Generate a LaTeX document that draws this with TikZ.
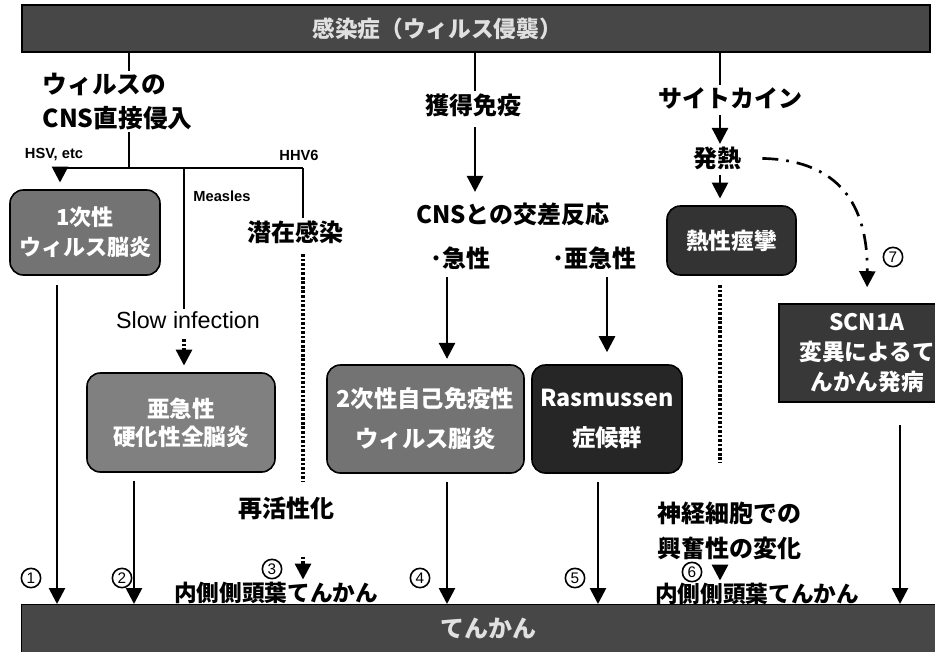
\documentclass[tikz,border=0pt]{standalone}
\usepackage{fontspec}
\setmainfont{Liberation Sans}
\newfontfamily\jp{Noto Sans CJK JP}
\usetikzlibrary{arrows.meta}
\begin{document}
\begin{tikzpicture}[x=0.75pt,y=-0.75pt,
  line width=2pt,
  arr/.style={-{Triangle[width=12pt,length=12pt]}},
  dots/.style={line width=2.4pt, dash pattern=on 2pt off 1.4pt},
  dashdot/.style={dash pattern=on 12pt off 6pt on 2pt off 6pt},
  jt/.style={font=\jp\bfseries\fontsize{18}{24}\selectfont, inner sep=1pt, text=black},
  lat/.style={font=\bfseries\fontsize{11}{12}\selectfont, inner sep=1pt},
  latbig/.style={font=\fontsize{17.5}{19}\selectfont, inner sep=1pt},
  num/.style={circle, draw=black, line width=1.2pt, minimum size=14.5pt, inner sep=0pt,
     font=\fontsize{11.5}{11.5}\selectfont},
  boxbase/.style={draw=black, line width=1.2pt, text=white, align=center, inner sep=0pt,
     font=\jp\bfseries\fontsize{17}{22.5}\selectfont},
  rbox/.style={boxbase, rounded corners=10pt},
  banner/.style={draw=black, line width=1pt, fill=black!72, inner sep=0pt},
  bantext/.style={font=\jp\bfseries\fontsize{17}{20}\selectfont, text=black!12, inner sep=0pt}
]
\useasboundingbox (0,0) rectangle (935,651);
\fill[white] (0,0) rectangle (935,651);

% banners
\node[banner, minimum width=681pt, minimum height=35.25pt] (top) at (476,28.5) {};
\node[bantext] (toptext) at (437,28.5) {感染症（ウィルス侵襲）};
\node[banner, minimum width=689pt, minimum height=38pt] (bot) at (481,630) {};
\node[bantext, font=\jp\bfseries\fontsize{18}{20}\selectfont] (bottext) at (488,628) {てんかん};

% column x positions
\coordinate (xa) at (57,0);
\coordinate (xb) at (134,0);
\coordinate (xc) at (475,0);
\coordinate (xd) at (447,0);
\coordinate (xe) at (607,0);
\coordinate (xe2) at (598,0);
\coordinate (xf) at (720,0);
\coordinate (xg) at (900,0);

% left column
\node[jt, align=left, anchor=west, font=\jp\bfseries\fontsize{18.5}{25}\selectfont] (virus) at (40,101.5) {ウィルスの\\CNS直接侵入};
\coordinate (jc) at (129,168);
\coordinate (jl) at (60,168);
\coordinate (jm) at (184,168);
\coordinate (jr) at (303,168);
\node[lat] (hsv) at (54,155) {HSV, etc};
\node[lat] (hhv) at (299,155) {HHV6};
\node[lat] (measles) at (222,196) {Measles};

\node[rbox, fill=black!55, minimum width=112.5pt, minimum height=63.75pt,
  font=\jp\bfseries\fontsize{16.5}{22.5}\selectfont] (box1) at (85,232.5) {1次性\\ウィルス脳炎};
\node[latbig] (slow) at (188,320) {Slow infection};
\node[rbox, fill=black!50, minimum width=141pt, minimum height=74.25pt,
  font=\jp\bfseries\fontsize{17}{21}\selectfont] (box2) at (181,422.5) {亜急性\\硬化性全脳炎};
\node[jt] (latent) at (295,232) {潜在感染};
\node[jt] (react) at (286,508) {再活性化};
\node[jt, font=\jp\bfseries\fontsize{17}{20}\selectfont] (mtle1) at (276,593) {内側側頭葉てんかん};

% center column
\node[jt] (acq) at (473,105) {獲得免疫};
\node[jt] (cross) at (513,214) {CNSとの交差反応};
\node[jt] (acute) at (460,258) {･急性};
\node[jt] (subacute) at (594,258) {･亜急性};
\node[rbox, fill=black!55, minimum width=147.75pt, minimum height=81pt,
  font=\jp\bfseries\fontsize{17.5}{30}\selectfont] (box4) at (425.5,419) {2次性自己免疫性\\ウィルス脳炎};
\node[rbox, fill=black!85, minimum width=112.5pt, minimum height=81pt,
  font=\jp\bfseries\fontsize{17.5}{30}\selectfont] (box5) at (607,419) {Rasmussen\\症候群};

% right column
\node[jt] (cyto) at (730,98) {サイトカイン};
\node[jt] (fever) at (717,158) {発熱};
\node[rbox, fill=black!80, minimum width=96.75pt, minimum height=51.75pt] (box6) at (731.5,240.5) {熱性痙攣};
\node[boxbase, fill=black!78, minimum width=132pt, minimum height=73.5pt,
  font=\jp\bfseries\fontsize{17}{22.5}\selectfont] (box7) at (867,353) {SCN1A\\変異によるて\\んかん発病};
\node[jt, align=left, font=\jp\bfseries\fontsize{18}{26}\selectfont] (neuro) at (729,531) {神経細胞での\\興奮性の変化};
\node[jt, font=\jp\bfseries\fontsize{17}{20}\selectfont] (mtle2) at (757,594) {内側側頭葉てんかん};

% numbers
\node[num] (n1) at (31,578) {1};
\node[num] (n2) at (122,578) {2};
\node[num] (n3) at (272,569) {3};
\node[num] (n4) at (420,578) {4};
\node[num] (n5) at (575,578) {5};
\node[num] (n6) at (692,572) {6};
\node[num] (n7) at (893,257) {7};

% connectors left
\draw (top.south -| jc) -- (virus.north -| jc);
\draw (virus.south -| jc) -- (jc);
\draw (jl) -- (jr);
\draw[arr, shorten >=5pt] (jl) -- (box1.north -| jl);
\draw (jm) -- (slow.north -| jm);
\draw[arr, dots, shorten <=6pt, shorten >=5pt] (slow.south -| jm) -- (box2.north -| jm);
\draw (jr) -- (latent.north -| jr);
\draw[dots, shorten <=6pt, shorten >=9pt] (latent.south -| jr) -- (react.north -| jr);
\draw[arr, dots, shorten <=26pt] (react.south -| jr) -- (mtle1.north -| jr);
\draw[arr, shorten <=7pt] (box1.south -| xa) -- (bot.north -| xa);
\draw[arr, shorten <=6pt] (box2.south -| xb) -- (bot.north -| xb);

% connectors center
\draw (top.south -| xc) -- (acq.north -| xc);
\draw[arr, shorten <=6pt, shorten >=6pt] (acq.south -| xc) -- (cross.north -| xc);
\draw[arr, shorten <=4pt, shorten >=4pt] (acute.south -| xd) -- (box4.north -| xd);
\draw[arr, shorten <=4pt, shorten >=9pt] (subacute.south -| xe) -- (box5.north -| xe);
\draw[arr, shorten <=6pt] (box4.south -| xd) -- (bot.north -| xd);
\draw[arr, shorten <=6pt] (box5.south -| xe2) -- (bot.north -| xe2);

% connectors right
\draw (top.south -| xf) -- (cyto.north -| xf);
\draw[arr, shorten <=3pt] (cyto.south -| xf) -- (fever.north -| xf);
\draw[arr, shorten <=2pt, shorten >=5pt] (fever.south -| xf) -- (box6.north -| xf);
\draw[dots, shorten <=7pt, shorten >=28pt] (box6.south -| xf) -- (neuro.north -| xf);
\draw[arr, dots, shorten <=10pt] (neuro.south -| xf) -- (mtle2.north -| xf);
\draw[arr, dashdot, shorten <=14pt, shorten >=12pt] (fever.east) .. controls (830,160) and (868,195) .. (box7.north);
\draw[arr, shorten <=17pt] (box7.south -| xg) -- (bot.north -| xg);
\end{tikzpicture}
\end{document}
